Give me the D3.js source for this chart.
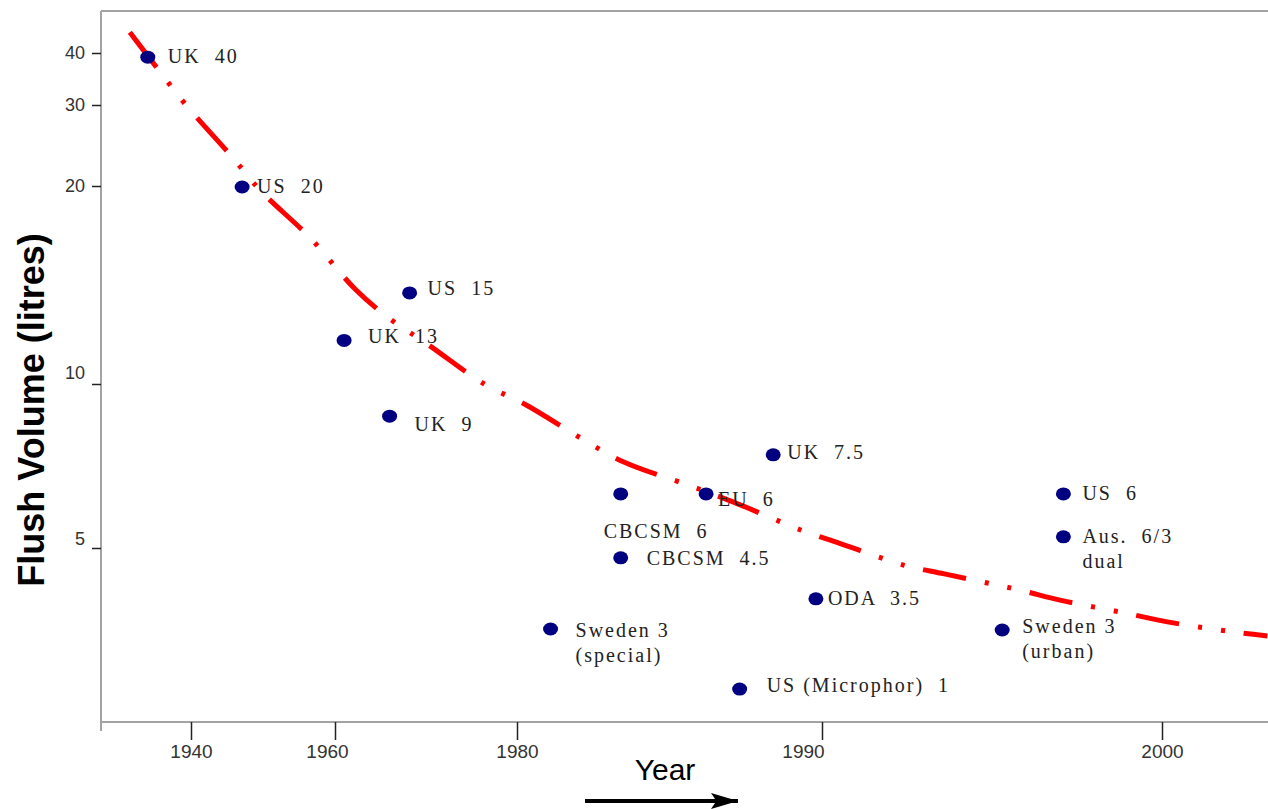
<!DOCTYPE html>
<html lang="en">
<head>
    <meta charset="UTF-8">
    <script src="https://d3js.org/d3.v7.min.js"></script>
    <title>Flush volume by year</title>
    <style>
        body { margin: 0; background: #fff; }
        svg { display: block; }
        .lbl { font-family: "Liberation Serif", "Times New Roman", serif; font-size: 20px; letter-spacing: 2px; fill: #222; white-space: pre; }
        .tick text { font-family: "Liberation Sans", Arial, sans-serif; fill: #333; }
    </style>
</head>
<body>
<svg id="chart"></svg>

<script>
    // values (the printed axes are uneven, so they are piecewise)
    const xTicks = [1940, 1960, 1980, 1990, 2000];
    const yTicks = [5, 10, 20, 30, 40];

    const years   = [1934.0, 1947.1, 1968.2, 1961.0, 1966.0, 1988.4, 1986.2, 1983.4, 1983.4, 1997.1, 1997.1, 1989.8, 1981.1, 1995.3, 1987.3];
    const volumes = [39.2, 19.95, 14.6, 12.2, 9.02, 7.84, 6.65, 6.65, 4.70, 6.65, 5.34, 3.45, 2.53, 2.50, 0.70];
    const labels  = [
        ["UK  40"], ["US  20"], ["US  15"], ["UK  13"], ["UK  9"], ["UK  7.5"], ["EU  6"],
        ["CBCSM  6"], ["CBCSM  4.5"], ["US  6"], ["Aus.  6/3", "dual"], ["ODA  3.5"],
        ["Sweden 3", "(special)"], ["Sweden 3", "(urban)"], ["US (Microphor)  1"]
    ];

    const trendYears   = [1931.5, 1935.4, 1939.4, 1945.7, 1949.7, 1956.5, 1962.2, 1966.0, 1970.2, 1976.4, 1980.3, 1982.2, 1983.5, 1985.7, 1987.1, 1989.3, 1990.5, 1992.4, 1993.6, 1995.8, 1997.0, 1998.9, 2000.2, 2002.1, 2003.1];
    const trendVolumes = [44.0, 36.9, 29.9, 23.6, 19.75, 17.4, 14.8, 13.3, 12.0, 10.0, 9.36, 8.29, 7.62, 6.89, 6.40, 5.55, 5.15, 4.48, 4.21, 3.72, 3.41, 3.02, 2.74, 2.44, 2.32];

    // label placement relative to its dot [dx, dy of first baseline]
    const labelOffsets = [
        [20, 6], [15, 6], [18, 2], [24, 3], [25, 15], [14, 4], [12, 12],
        [-17, 44], [26, 7], [19, 6], [19, 6], [12, 6], [25, 8], [20, 3], [27, 3]
    ];

    const width = 1268, height = 809;
    const plotLeft = 101, plotTop = 11, plotBottom = 722;

    const svg = d3.select("#chart").attr("width", width).attr("height", height);

    const x = d3.scaleLinear().domain(xTicks).range([191, 335, 517, 822, 1162]);
    const y = d3.scaleLinear().domain(yTicks).range([548, 384, 186, 105, 53]);

    // frame
    const frame = svg.append("g").attr("stroke", "#a3a3a3").attr("stroke-width", 2);
    frame.append("line").attr("x1", plotLeft).attr("x2", width).attr("y1", plotTop).attr("y2", plotTop);
    frame.append("line").attr("x1", plotLeft).attr("x2", width).attr("y1", plotBottom).attr("y2", plotBottom);
    frame.append("line").attr("x1", plotLeft).attr("x2", plotLeft).attr("y1", plotTop).attr("y2", plotBottom + 9);

    const yAxis = svg.append("g")
        .attr("transform", `translate(${plotLeft},0)`)
        .call(d3.axisLeft(y).tickValues(yTicks).tickSize(9).tickPadding(7));
    yAxis.select(".domain").remove();
    yAxis.selectAll(".tick line").attr("stroke", "#222").attr("stroke-width", 1.5);
    yAxis.selectAll(".tick text").attr("font-size", 18)
        .attr("dy", d => d === 10 ? "-0.3em" : d === 5 ? "-0.2em" : "0.32em");

    const xAxis = svg.append("g")
        .attr("transform", `translate(0,${plotBottom})`)
        .call(d3.axisBottom(x).tickValues(xTicks).tickFormat(d3.format("d")).tickSize(18).tickPadding(5));
    xAxis.select(".domain").remove();
    xAxis.selectAll(".tick line").attr("stroke", "#222").attr("stroke-width", 1.5);
    xAxis.selectAll(".tick text").attr("font-size", 19)
        .attr("dx", d => d === 1990 ? -19 : d === 1960 ? -8 : 0);

    // trend curve
    const line = d3.line()
        .x((d, i) => x(trendYears[i]))
        .y((d, i) => y(trendVolumes[i]))
        .curve(d3.curveCatmullRom);

    svg.append("path")
        .datum(trendYears)
        .attr("d", line)
        .attr("fill", "none")
        .attr("stroke", "#ff0000")
        .attr("stroke-width", 5)
        .attr("stroke-dasharray", "44,19,4,19,4,19");

    // points
    const pts = years.map((yr, i) => ({yr, v: volumes[i], lines: labels[i], off: labelOffsets[i]}));

    svg.append("g").selectAll("ellipse")
        .data(pts)
        .join("ellipse")
        .attr("cx", d => x(d.yr))
        .attr("cy", d => y(d.v))
        .attr("rx", 7.5)
        .attr("ry", 6.5)
        .attr("fill", "#000080");

    const txt = svg.append("g").selectAll("text")
        .data(pts)
        .join("text")
        .attr("class", "lbl")
        .attr("x", d => x(d.yr) + d.off[0])
        .attr("y", d => y(d.v) + d.off[1]);

    txt.selectAll("tspan")
        .data(d => d.lines.map((t, j) => ({t, j, x: x(d.yr) + d.off[0]})))
        .join("tspan")
        .attr("x", d => d.x)
        .attr("dy", d => d.j === 0 ? 0 : 25)
        .text(d => d.t);

    // axis titles
    svg.append("text")
        .attr("transform", "translate(44,410) rotate(-90)")
        .attr("text-anchor", "middle")
        .attr("font-family", "Liberation Sans, Arial, sans-serif")
        .attr("font-weight", "bold")
        .attr("font-size", 36)
        .attr("fill", "#000")
        .text("Flush Volume (litres)");

    svg.append("text")
        .attr("x", 665)
        .attr("y", 780)
        .attr("text-anchor", "middle")
        .attr("font-family", "Liberation Sans, Arial, sans-serif")
        .attr("font-size", 30)
        .attr("fill", "#000")
        .text("Year");

    svg.append("defs").append("marker")
        .attr("id", "arrow")
        .attr("viewBox", "0 -5 10 10")
        .attr("preserveAspectRatio", "none")
        .attr("refX", 10)
        .attr("refY", 0)
        .attr("markerWidth", 27)
        .attr("markerHeight", 16)
        .attr("markerUnits", "userSpaceOnUse")
        .attr("orient", "auto")
        .append("path")
        .attr("d", "M0,-5L10,0L0,5L2,0Z")
        .attr("fill", "#000");

    svg.append("line")
        .attr("x1", 585).attr("x2", 738)
        .attr("y1", 801).attr("y2", 801)
        .attr("stroke", "#000")
        .attr("stroke-width", 4)
        .attr("marker-end", "url(#arrow)");
</script>
</body>
</html>
